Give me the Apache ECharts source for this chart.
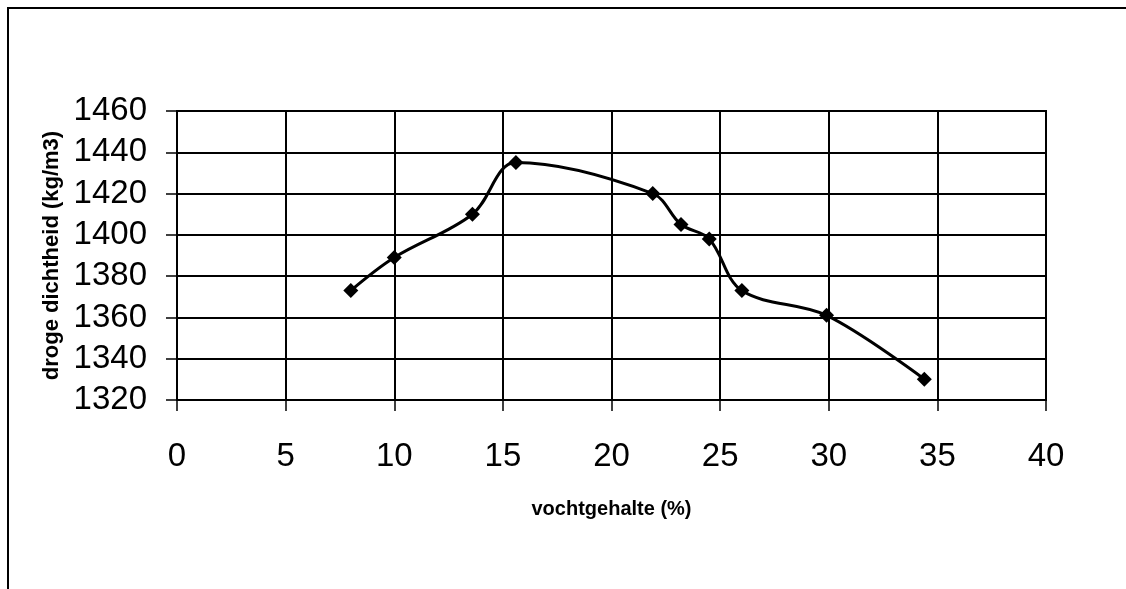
<!DOCTYPE html>
<html>
<head>
<meta charset="utf-8">
<script src="https://cdn.jsdelivr.net/npm/echarts@6/dist/echarts.min.js"></script>
<style>
html,body{margin:0;padding:0;background:#fff;}
#chart{width:1126px;height:589px;}
</style>
</head>
<body>
<div id="chart"></div>
<script>
// Data
const moisture = [8.0, 10.0, 13.6, 15.6, 21.9, 23.2, 24.5, 26.0, 29.9, 34.4];
const density  = [1373, 1389, 1410, 1435, 1420, 1405, 1398, 1373, 1361, 1330];
const xTicks = [0, 5, 10, 15, 20, 25, 30, 35, 40];
const yTicks = [1320, 1340, 1360, 1380, 1400, 1420, 1440, 1460];
const xTitle = 'vochtgehalte (%)';
const yTitle = 'droge dichtheid (kg/m3)';

const points = moisture.map((x, i) => [x, density[i]]);
const font = 'Liberation Sans, Arial, Helvetica, sans-serif';

const chart = echarts.init(document.getElementById('chart'), null, {renderer: 'canvas'});
chart.setOption({
  backgroundColor: '#fff',
  animation: false,
  graphic: [{
    type: 'rect',
    shape: {x: 8, y: 8, width: 1300, height: 800},
    style: {fill: 'none', stroke: '#000', lineWidth: 2},
    silent: true
  }],
  grid: {left: 177, top: 111, right: 80, bottom: 189, show: true, borderColor: '#000', borderWidth: 2, backgroundColor: 'transparent'},
  xAxis: {
    type: 'value',
    min: xTicks[0], max: xTicks[xTicks.length - 1], interval: 5,
    name: xTitle, nameLocation: 'middle', nameGap: 99,
    nameTextStyle: {fontFamily: font, fontWeight: 'bold', fontSize: 20, color: '#000'},
    axisLine: {show: true, onZero: false, lineStyle: {color: '#000', width: 2}},
    axisTick: {show: true, inside: false, length: 11, lineStyle: {color: '#000', width: 1.5}},
    axisLabel: {fontFamily: font, fontSize: 33, color: '#000', margin: 40, formatter: v => String(v)},
    splitLine: {show: true, lineStyle: {color: '#000', width: 2}}
  },
  yAxis: {
    type: 'value',
    min: yTicks[0], max: yTicks[yTicks.length - 1], interval: 20,
    name: yTitle, nameLocation: 'middle', nameGap: 100, nameRotate: 90,
    nameTextStyle: {fontFamily: font, fontWeight: 'bold', fontSize: 22, color: '#000'},
    axisLine: {show: true, lineStyle: {color: '#000', width: 2}},
    axisTick: {show: true, inside: false, length: 11, lineStyle: {color: '#000', width: 1.5}},
    axisLabel: {fontFamily: font, fontSize: 33, color: '#000', margin: 30, formatter: v => String(v)},
    splitLine: {show: true, lineStyle: {color: '#000', width: 2}}
  },
  series: [{
    type: 'line',
    data: points,
    smooth: 0.35,
    symbol: 'diamond',
    symbolSize: 15,
    lineStyle: {color: '#000', width: 3},
    itemStyle: {color: '#000'},
    z: 5
  }]
});
</script>
</body>
</html>
